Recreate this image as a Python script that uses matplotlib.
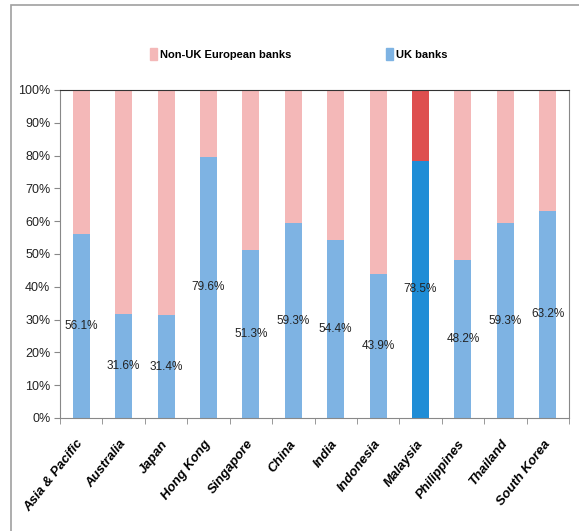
import matplotlib
matplotlib.use("Agg")
import matplotlib.pyplot as plt
from matplotlib.patches import Rectangle, Patch
import numpy as np

countries = ["Asia & Pacific", "Australia", "Japan", "Hong Kong", "Singapore", "China",
             "India", "Indonesia", "Malaysia", "Philippines", "Thailand", "South Korea"]
uk_share = [56.1, 31.6, 31.4, 79.6, 51.3, 59.3, 54.4, 43.9, 78.5, 48.2, 59.3, 63.2]
non_uk_share = [100 - v for v in uk_share]
highlight = "Malaysia"

plt.rcParams["font.family"] = ["Liberation Sans", "DejaVu Sans"]

fig = plt.figure(figsize=(5.79, 5.31), dpi=100)
# outer chart-area frame, runs off the right and bottom edges
fig.patches.append(Rectangle((10.5 / 579, -0.1), 1.2, 1.1 - 4.5 / 531,
                             transform=fig.transFigure, fill=False,
                             edgecolor="#a0a0a0", linewidth=1.2))

ax = fig.add_axes([60 / 579, 1 - 418 / 531, 509 / 579, 328 / 531])

x = np.arange(len(countries))
uk_colors = ["#1f8dd6" if c == highlight else "#7eb3e3" for c in countries]
non_colors = ["#de4f4f" if c == highlight else "#f4b8b8" for c in countries]

ax.bar(x, uk_share, width=0.4, color=uk_colors)
ax.bar(x, non_uk_share, width=0.4, bottom=uk_share, color=non_colors)

for xi, v in zip(x, uk_share):
    ax.text(xi, v / 2, f"{v:.1f}%", ha="center", va="center", fontsize=8.5, color="#222222")

ax.set_xlim(-0.5, len(countries) - 0.5)
ax.set_ylim(0, 100)
ax.set_yticks(np.arange(0, 101, 10))
ax.set_yticklabels([f"{t}%" for t in range(0, 101, 10)], fontsize=9, color="#222222")
ax.set_xticks(x)
ax.set_xticklabels(countries, rotation=52, ha="right", va="center", rotation_mode="anchor",
                   fontsize=9.5, fontweight="bold", fontstyle="italic")
ax.tick_params(axis="x", length=0, pad=17)
ax.set_xticks(np.arange(-0.5, len(countries), 1), minor=True)
ax.tick_params(axis="x", which="minor", length=4, color="#888888")
ax.tick_params(axis="y", length=4, color="#888888", pad=3)

for side in ["left", "bottom", "right"]:
    ax.spines[side].set_color("#888888")
ax.spines["top"].set_color("#333333")

handles = [Patch(color="#f4b8b8", label="Non-UK European banks"),
           Patch(color="#7eb3e3", label="UK banks")]
fig.legend(handles=handles, loc="center", bbox_to_anchor=(0.516, 1 - 54 / 531), ncol=2,
           frameon=False, prop={"weight": "bold", "size": 8}, handlelength=0.6,
           handleheight=1.4, handletextpad=0.25, columnspacing=8.6)

plt.savefig("out.png", dpi=100)
plt.close()
